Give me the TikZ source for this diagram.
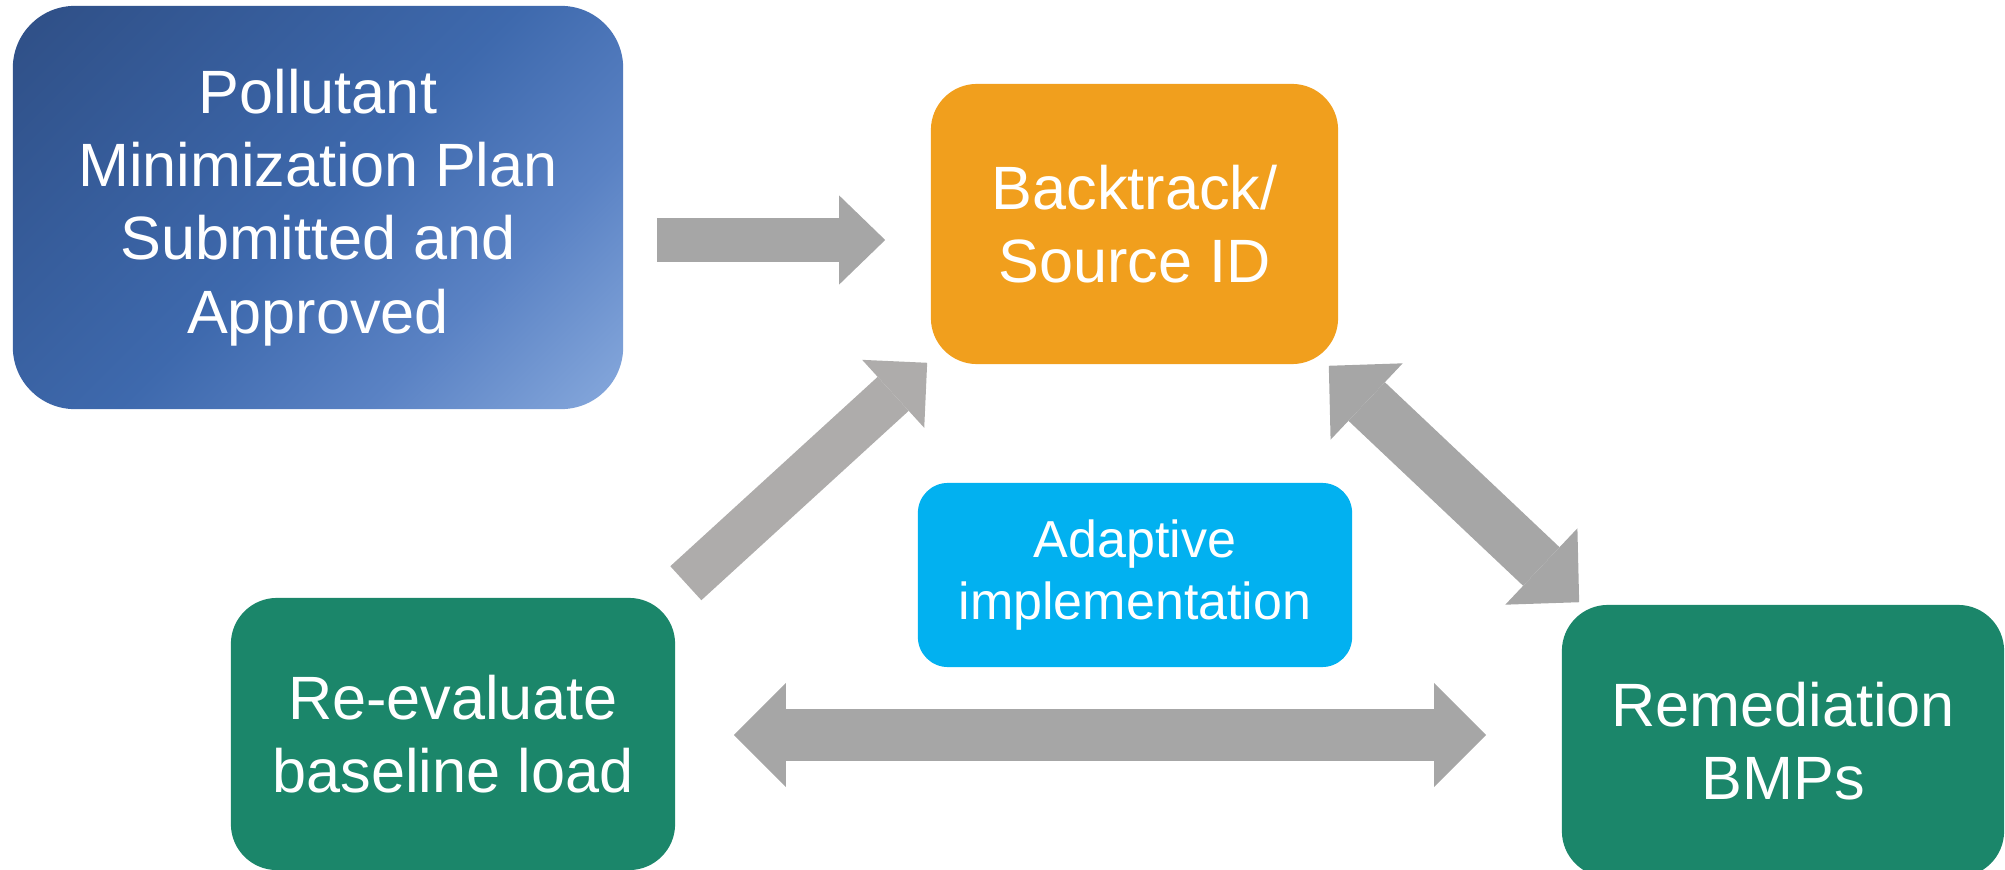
\documentclass[tikz,border=0pt]{standalone}
\usepackage{fontspec}
\setmainfont{Liberation Sans}
\usetikzlibrary{arrows.meta}
\definecolor{plandark}{HTML}{2F4F86}
\definecolor{plantop}{HTML}{365C9A}
\definecolor{planmid}{HTML}{3E69AD}
\definecolor{planlow}{HTML}{5A82C4}
\definecolor{planlight}{HTML}{86A8DC}
\definecolor{backtrack}{HTML}{F19F1D}
\definecolor{adaptive}{HTML}{02B1F0}
\definecolor{remedy}{HTML}{1B866A}
\definecolor{flowgray}{HTML}{A6A6A6}
\definecolor{warmgray}{HTML}{AEACAB}
\pgfdeclareverticalshading{plangrad}{100bp}{color(0bp)=(planlight); color(15bp)=(planlight);
  color(32.5bp)=(planlow); color(50bp)=(planmid); color(67.5bp)=(plantop);
  color(85bp)=(plandark); color(100bp)=(plandark)}

\begin{document}
\begin{tikzpicture}[x=0.01cm, y=-0.01cm,
  every node/.style={text=white, align=center, inner sep=0pt},
  stage/.style={rectangle, rounded corners=0.46cm, font=\fontsize{17.4}{20.8}\selectfont}]
  % Frame
  \useasboundingbox (0,0) rectangle (2005,870);
  \clip (0,0) rectangle (2005,870);

  % Plan submitted
  \node[stage, rounded corners=0.62cm, minimum width=6.10cm, minimum height=4.03cm,
    shade, shading=plangrad, shading angle=45]
    (plan) at (318,207.5) {Pollutant\\Minimization Plan\\Submitted and\\Approved};

  % Backtrack / source ID
  \node[stage, fill=backtrack, minimum width=4.07cm, minimum height=2.80cm]
    (source) at (1134.5,224) {Backtrack/\\Source ID};

  % Adaptive implementation
  \node[stage, fill=adaptive, rounded corners=0.30cm, minimum width=4.34cm, minimum height=1.84cm,
    font=\fontsize{14.8}{17.8}\selectfont] (adapt) at (1135,575) {Adaptive\\implementation};

  % Re-evaluate baseline
  \node[stage, fill=remedy, minimum width=4.44cm, minimum height=2.72cm]
    (reeval) at (453,734) {Re-evaluate\\baseline load};

  % Remediation BMPs
  \node[stage, fill=remedy, minimum width=4.42cm, minimum height=2.72cm]
    (bmps) at (1783,741) {Remediation\\BMPs};

  % Plan to backtrack
  \draw[flowgray, line width=0.43cm, -{Triangle[length=0.46cm, width=0.89cm, line width=0pt]}]
    ([shift={(33,32.5)}]plan.east) -- ([shift={(-45,16)}]source.west);

  % Re-evaluate back to source ID
  \draw[warmgray, line width=0.46cm, -{Triangle[length=0.46cm, width=0.92cm, line width=0pt]}]
    ([shift={(10,-14)}]reeval.north east) -- ([shift={(-3,-2)}]source.south west);

  % Source ID and remediation
  \draw[flowgray, line width=0.53cm, {Triangle[length=0.52cm, width=1.05cm, line width=0pt]}-{Triangle[length=0.52cm, width=1.05cm, line width=0pt]}]
    ([shift={(-10,1)}]source.south east) -- ([shift={(18,-2)}]bmps.north west);

  % Remediation and re-evaluate
  \draw[flowgray, line width=0.52cm, {Triangle[length=0.52cm, width=1.04cm, line width=0pt]}-{Triangle[length=0.52cm, width=1.04cm, line width=0pt]}]
    ([shift={(58,1)}]reeval.east) -- ([shift={(-75,-6)}]bmps.west);
\end{tikzpicture}
\end{document}
